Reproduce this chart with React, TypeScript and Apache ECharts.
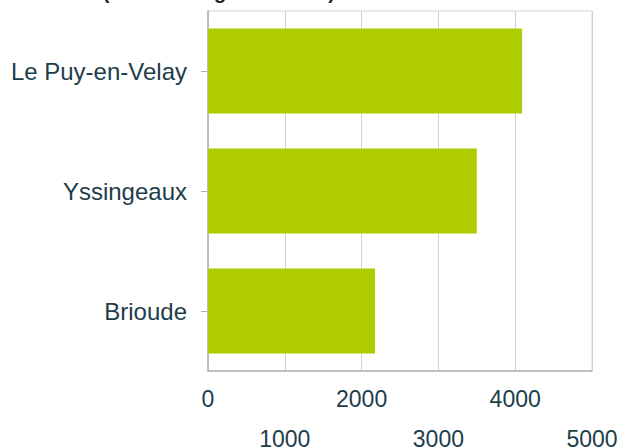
import React, { useEffect, useRef } from "react";
import * as echarts from "echarts";

const categories = ["Brioude", "Yssingeaux", "Le Puy-en-Velay"];
const values = [2175, 3500, 4090];
const xTicks = [0, 1000, 2000, 3000, 4000, 5000];
const titleText = "Longueur du réseau par section (% de la longueur totale)";

const FONT = "Liberation Sans, Arial, sans-serif";
const TEXT_COLOR = "#1c3d4a";

export default function App() {
  const ref = useRef<HTMLDivElement>(null);
  useEffect(() => {
    if (!ref.current) return;
    const chart = echarts.init(ref.current, undefined, { renderer: "svg" });
    chart.setOption({
      animation: false,
      backgroundColor: "#ffffff",
      textStyle: { fontFamily: FONT },
      graphic: [
        {
          type: "text",
          x: 335,
          y: -8.5,
          style: {
            text: titleText,
            align: "right",
            verticalAlign: "middle",
            font: "bold 20px " + FONT,
            fill: "#222222",
          },
        },
      ],
      grid: {
        left: 208,
        right: 27,
        top: 11,
        bottom: 77,
        show: true,
        borderColor: "#d4d4d4",
        borderWidth: 1,
        containLabel: false,
        outerBoundsMode: "none",
      },
      xAxis: {
        type: "value",
        min: xTicks[0],
        max: xTicks[xTicks.length - 1],
        interval: 1000,
        axisLine: { show: true, lineStyle: { color: "#b3b3b3", width: 1.5 } },
        axisTick: { show: false },
        splitLine: { show: true, lineStyle: { color: "#d0d0d0", width: 1 } },
        axisLabel: {
          color: TEXT_COLOR,
          fontSize: 23,
          fontFamily: FONT,
          lineHeight: 40,
          margin: 8,
          formatter: (v: number) => {
            const idx = xTicks.indexOf(v);
            return idx % 2 === 1 ? "\n" + v : String(v);
          },
        },
      },
      yAxis: {
        type: "category",
        data: categories,
        axisLine: { show: true, lineStyle: { color: "#b3b3b3", width: 1.5 } },
        axisTick: { show: true, alignWithLabel: true, length: 7, lineStyle: { color: "#b3b3b3" } },
        splitLine: { show: false },
        axisLabel: {
          color: TEXT_COLOR,
          fontSize: 24,
          fontFamily: FONT,
          margin: 21,
        },
      },
      series: [
        {
          type: "bar",
          data: values,
          barCategoryGap: "29%",
          itemStyle: { color: "#aecc00" },
        },
      ],
    });
    return () => chart.dispose();
  }, []);
  return (
    <div
      ref={ref}
      style={{ position: "fixed", left: 0, top: 0, width: 619, height: 448 }}
    />
  );
}
